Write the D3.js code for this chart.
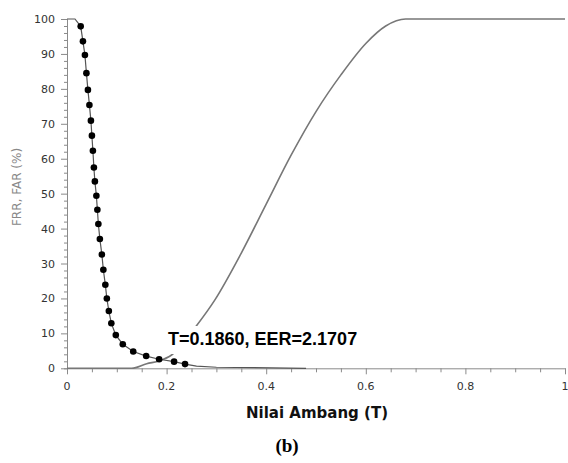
<!DOCTYPE html>
<html lang="en">
<head>
  <meta charset="UTF-8">
  <title>FRR / FAR</title>
  <script src="https://cdn.jsdelivr.net/npm/d3@7"></script>
  <style>
    body { margin: 0; background: #fff; }
    .tick-label { font: 11px "DejaVu Sans", sans-serif; fill: #333; }
  </style>
</head>
<body>
  <svg width="568" height="463"></svg>
  <script>
    // FRR points with markers (threshold, %)
    var dotT = [0.0275, 0.032, 0.036, 0.039, 0.042, 0.045, 0.048, 0.050, 0.052, 0.054, 0.056, 0.059, 0.061, 0.063,
                0.066, 0.070, 0.073, 0.077, 0.080, 0.084, 0.089, 0.098, 0.112, 0.133, 0.159, 0.185, 0.215, 0.237];
    var dotFRR = [97.9, 93.6, 89.7, 84.5, 79.7, 75.4, 70.9, 66.6, 62.3, 57.5, 53.5, 49.4, 45.4, 41.3,
                  37.0, 32.6, 28.2, 23.9, 20.0, 16.4, 12.9, 9.5, 6.9, 4.8, 3.5, 2.6, 1.9, 1.2];
    // unmarked parts of the FRR line
    var frrHeadT = [0, 0.016], frrHeadV = [100, 100];
    var frrTailT = [0.26, 0.30, 0.48], frrTailV = [0.6, 0.3, 0.0];
    // FAR curve
    var farT = [0, 0.13, 0.16, 0.186, 0.21, 0.26, 0.297, 0.35, 0.40, 0.45, 0.50, 0.55, 0.60, 0.64, 0.68, 1];
    var farV = [0, 0, 1.3, 2.17, 3.8, 12.2, 19.6, 33, 47, 61, 73.5, 84, 93, 98, 100, 100];
    var xTicks = [0, 0.2, 0.4, 0.6, 0.8, 1];
    var yTicks = [0, 10, 20, 30, 40, 50, 60, 70, 80, 90, 100];
    var eerLabel = "T=0.1860, EER=2.1707";

    var svg = d3.select("svg");
    var x = d3.scaleLinear().domain([0, 1]).range([67, 565]);
    var y = d3.scaleLinear().domain([0, 100]).range([368.3, 19]);

    function pts(ts, vs) { return ts.map(function (t, i) { return [t, vs[i]]; }); }
    var line = d3.line().x(function (d) { return x(d[0]); }).y(function (d) { return y(d[1]); });

    // axes
    var axisColor = "#8a8a8a";
    var yAxis = svg.append("g").attr("transform", "translate(67,0)")
      .call(d3.axisLeft(y).tickValues(d3.range(0, 101, 2)).tickSize(3).tickFormat(""));
    yAxis.selectAll(".tick line").filter(function (d) { return d % 10 === 0; }).attr("x2", -6);
    yAxis.selectAll("path, line").attr("stroke", axisColor);
    svg.selectAll(".ylab").data(yTicks).enter().append("text")
      .attr("class", "tick-label")
      .attr("x", 55).attr("y", function (d) { return y(d) + 4; })
      .attr("text-anchor", "end").text(function (d) { return d; });

    var xAxis = svg.append("g").attr("transform", "translate(0,368.3)")
      .call(d3.axisBottom(x).tickValues(d3.range(0, 21).map(function (i) { return i / 20; })).tickSize(4).tickFormat(""));
    xAxis.selectAll(".tick line").filter(function (d, i) { return i % 4 === 0; }).attr("y2", 6);
    xAxis.selectAll("path, line").attr("stroke", axisColor);
    svg.selectAll(".xlab").data(xTicks).enter().append("text")
      .attr("class", "tick-label")
      .attr("x", function (d) { return x(d); }).attr("y", 390)
      .attr("text-anchor", "middle").text(function (d) { return d; });

    // FAR
    svg.append("path").datum(pts(farT, farV))
      .attr("d", line.curve(d3.curveMonotoneX))
      .attr("fill", "none").attr("stroke", "#777").attr("stroke-width", 1.6);

    // FRR
    var frr = pts(frrHeadT, frrHeadV).concat(pts(dotT, dotFRR), pts(frrTailT, frrTailV));
    svg.append("path").datum(frr)
      .attr("d", line.curve(d3.curveLinear))
      .attr("fill", "none").attr("stroke", "#555").attr("stroke-width", 1.2);
    svg.selectAll(".dot").data(pts(dotT, dotFRR)).enter().append("circle")
      .attr("cx", function (d) { return x(d[0]); }).attr("cy", function (d) { return y(d[1]); })
      .attr("r", 3.3).attr("fill", "#000");

    // EER label with white box
    svg.append("rect").attr("x", 170).attr("y", 326).attr("width", 194).attr("height", 28).attr("fill", "#fff");
    svg.append("text").attr("x", 168).attr("y", 345)
      .style("font", "bold 18px 'Liberation Sans', Arial, sans-serif").attr("fill", "#000")
      .text(eerLabel);

    // titles
    svg.append("text").attr("transform", "translate(21,187) rotate(-90)")
      .attr("text-anchor", "middle")
      .style("font", "12px 'DejaVu Sans', sans-serif").attr("fill", "#888")
      .text("FRR, FAR (%)");
    svg.append("text").attr("x", 317).attr("y", 418).attr("text-anchor", "middle")
      .style("font", "bold 15px 'DejaVu Sans', sans-serif").attr("fill", "#111")
      .text("Nilai Ambang (T)");
    svg.append("text").attr("x", 287).attr("y", 452).attr("text-anchor", "middle")
      .style("font", "bold 19px 'Liberation Serif', serif").attr("fill", "#000")
      .text("(b)");
  </script>
</body>
</html>
